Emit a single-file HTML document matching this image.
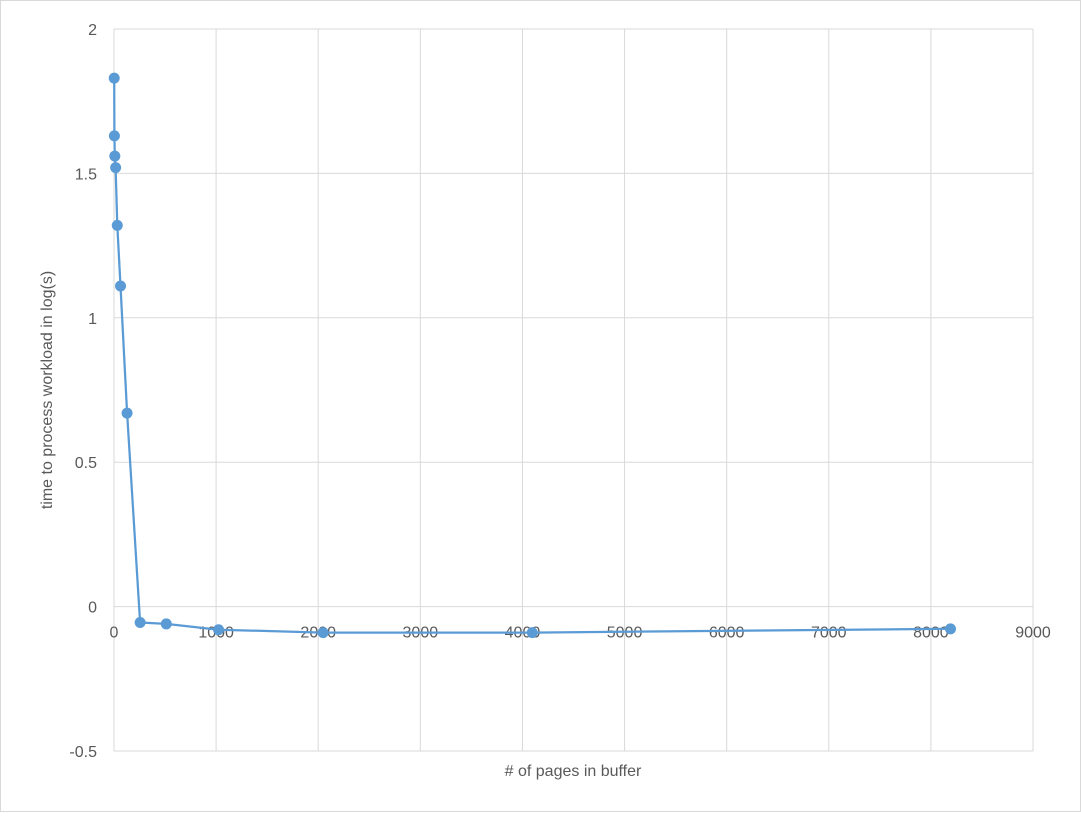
<!DOCTYPE html>
<html><head><meta charset="utf-8"><style>
html,body{margin:0;padding:0;background:#fff;}
svg text{font-family:"Liberation Sans",sans-serif;fill:#595959;}
</style></head><body>
<svg id="chart" width="1081" height="812" xmlns="http://www.w3.org/2000/svg">
<rect x="0.5" y="0.5" width="1080" height="811" fill="#fff" stroke="#d9d9d9"/>
<g id="grid"></g><g id="ticks"></g><g id="series"></g>
<text x="573" y="776" font-size="16" text-anchor="middle"># of pages in buffer</text>
<text transform="translate(52,390) rotate(-90)" font-size="16" text-anchor="middle">time to process workload in log(s)</text>
</svg>
<script>
const xValues=[2,4,8,16,32,64,128,256,512,1024,2048,4096,8192];
const yValues=[1.83,1.63,1.56,1.52,1.32,1.11,0.67,-0.055,-0.06,-0.08,-0.09,-0.09,-0.077];
const xTicks=[0,1000,2000,3000,4000,5000,6000,7000,8000,9000];
const yTicks=[-0.5,0,0.5,1,1.5,2];
const NS="http://www.w3.org/2000/svg";
const X0=114,X1=1033,Y0=751,Y1=29;
function sx(v){return X0+(v-0)/(9000-0)*(X1-X0);}
function sy(v){return Y0-(v+0.5)/(2.5)*(Y0-Y1);}
function mk(t,a,p){const e=document.createElementNS(NS,t);for(const k in a)e.setAttribute(k,a[k]);p.appendChild(e);return e;}
const grid=document.getElementById('grid'),ticks=document.getElementById('ticks'),series=document.getElementById('series');
xTicks.forEach(t=>{
  const l=mk('line',{x1:sx(t),x2:sx(t),y1:Y1,y2:Y0,stroke:'#d9d9d9'},grid);
  
  
  const tx=mk('text',{x:sx(t),y:sy(0)+31,'font-size':16,'text-anchor':'middle'},ticks);
  tx.textContent=t;
  
  
});
yTicks.forEach(t=>{
  const l=mk('line',{x1:X0,x2:X1,y1:sy(t),y2:sy(t),stroke:'#d9d9d9'},grid);
  
  
  const tx=mk('text',{x:97,y:sy(t)+6,'font-size':16,'text-anchor':'end'},ticks);
  tx.textContent=t;
  
  
});
const pts=xValues.map((x,i)=>sx(x).toFixed(1)+','+sy(yValues[i]).toFixed(1)).join(' ');
const line=mk('polyline',{points:pts,fill:'none',stroke:'#5b9bd5','stroke-width':2.25,'stroke-linejoin':'round'},series);


xValues.forEach((x,i)=>{
  const c=mk('circle',{cx:sx(x),cy:sy(yValues[i]),r:5.5,fill:'#5b9bd5'},series);
  
  
});
</script>
</body></html>
